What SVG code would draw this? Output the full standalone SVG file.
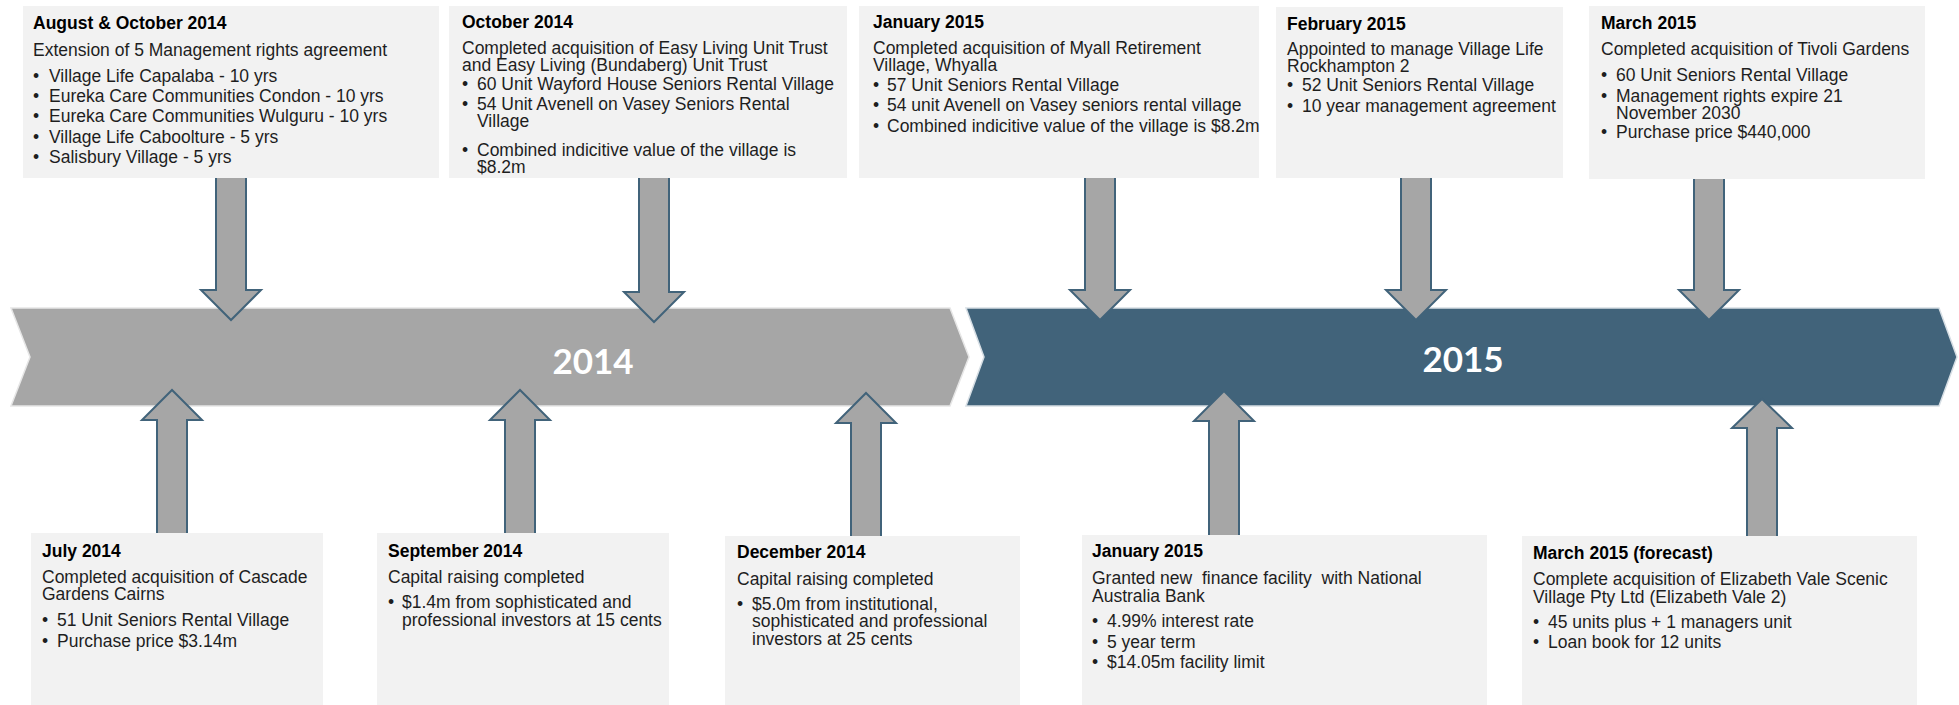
<svg xmlns="http://www.w3.org/2000/svg" width="1959" height="705" viewBox="0 0 1959 705">
<style>
.box{fill:#F2F2F2}
.t{font-family:"Liberation Sans",Arial,sans-serif;font-size:17.5px;fill:#1E1E1E}
.h{font-family:"Liberation Sans",Arial,sans-serif;font-size:17.5px;font-weight:bold;fill:#000}
.arrow{fill:#A6A6A6;stroke:#41637A;stroke-width:2;stroke-linejoin:miter}
.year{font-family:Lato,"Open Sans",sans-serif;font-size:35px;font-weight:bold;fill:#FFFFFF;text-anchor:middle}
</style>
<rect width="1959" height="705" fill="#FFFFFF"/>
<g id="timeline-2014">
<polygon points="11,308 950,308 969,357 950,406 11,406 30,357" fill="#A6A6A6" stroke="#E6E6E6" stroke-width="1.5"/>
<text class="year" x="593" y="374">2014</text>
</g>
<g id="timeline-2015">
<polygon points="966,308 1939,308 1957,357 1939,406 966,406 984,357" fill="#41637A" stroke="#D6DEE4" stroke-width="1.5"/>
<text class="year" x="1463" y="372">2015</text>
</g>
<g id="connectors">
<polygon class="arrow" points="216,174 246,174 246,290 261,290 231,320 201,290 216,290"/>
<polygon class="arrow" points="639,174 669,174 669,292 684,292 654,322 624,292 639,292"/>
<polygon class="arrow" points="1085,174 1115,174 1115,290 1130,290 1100,320 1070,290 1085,290"/>
<polygon class="arrow" points="1401,174 1431,174 1431,290 1446,290 1416,320 1386,290 1401,290"/>
<polygon class="arrow" points="1694,174 1724,174 1724,290 1739,290 1709,320 1679,290 1694,290"/>
<polygon class="arrow" points="157,537 187,537 187,420 202,420 172,390 142,420 157,420"/>
<polygon class="arrow" points="505,537 535,537 535,420 550,420 520,390 490,420 505,420"/>
<polygon class="arrow" points="851,540 881,540 881,423 896,423 866,393 836,423 851,423"/>
<polygon class="arrow" points="1209,539 1239,539 1239,421 1254,421 1224,391 1194,421 1209,421"/>
<polygon class="arrow" points="1747,540 1777,540 1777,428 1792,428 1762,399 1732,428 1747,428"/>
</g>
<g id="aug-oct-2014">
<rect class="box" x="23" y="6" width="416" height="172"/>
<text class="h" x="33" y="29">August &amp; October 2014</text>
<text class="t" x="33" y="56">Extension of 5 Management rights agreement</text>
<text class="t" x="33" y="82">•</text><text class="t" x="49" y="82">Village Life Capalaba - 10 yrs</text>
<text class="t" x="33" y="102">•</text><text class="t" x="49" y="102">Eureka Care Communities Condon - 10 yrs</text>
<text class="t" x="33" y="122">•</text><text class="t" x="49" y="122">Eureka Care Communities Wulguru - 10 yrs</text>
<text class="t" x="33" y="143">•</text><text class="t" x="49" y="143">Village Life Caboolture - 5 yrs</text>
<text class="t" x="33" y="163">•</text><text class="t" x="49" y="163">Salisbury Village - 5 yrs</text>
</g>
<g id="oct-2014">
<rect class="box" x="449" y="6" width="398" height="172"/>
<text class="h" x="462" y="28">October 2014</text>
<text class="t" x="462" y="54">Completed acquisition of Easy Living Unit Trust</text>
<text class="t" x="462" y="71">and Easy Living (Bundaberg) Unit Trust</text>
<text class="t" x="462" y="90">•</text><text class="t" x="477" y="90">60 Unit Wayford House Seniors Rental Village</text>
<text class="t" x="462" y="110">•</text><text class="t" x="477" y="110">54 Unit Avenell on Vasey Seniors Rental</text>
<text class="t" x="477" y="127">Village</text>
<text class="t" x="462" y="156">•</text><text class="t" x="477" y="156">Combined indicitive value of the village is</text>
<text class="t" x="477" y="173">$8.2m</text>
</g>
<g id="jan-2015-top">
<rect class="box" x="859" y="6" width="400" height="172"/>
<text class="h" x="873" y="28">January 2015</text>
<text class="t" x="873" y="54">Completed acquisition of Myall Retirement</text>
<text class="t" x="873" y="71">Village, Whyalla</text>
<text class="t" x="873" y="91">•</text><text class="t" x="887" y="91">57 Unit Seniors Rental Village</text>
<text class="t" x="873" y="111">•</text><text class="t" x="887" y="111">54 unit Avenell on Vasey seniors rental village</text>
<text class="t" x="873" y="132">•</text><text class="t" x="887" y="132">Combined indicitive value of the village is $8.2m</text>
</g>
<g id="feb-2015">
<rect class="box" x="1276" y="7" width="287" height="171"/>
<text class="h" x="1287" y="30">February 2015</text>
<text class="t" x="1287" y="55">Appointed to manage Village Life</text>
<text class="t" x="1287" y="72">Rockhampton 2</text>
<text class="t" x="1287" y="91">•</text><text class="t" x="1302" y="91">52 Unit Seniors Rental Village</text>
<text class="t" x="1287" y="112">•</text><text class="t" x="1302" y="112">10 year management agreement</text>
</g>
<g id="mar-2015">
<rect class="box" x="1589" y="6" width="336" height="173"/>
<text class="h" x="1601" y="29">March 2015</text>
<text class="t" x="1601" y="55">Completed acquisition of Tivoli Gardens</text>
<text class="t" x="1601" y="81">•</text><text class="t" x="1616" y="81">60 Unit Seniors Rental Village</text>
<text class="t" x="1601" y="102">•</text><text class="t" x="1616" y="102">Management rights expire 21</text>
<text class="t" x="1616" y="119">November 2030</text>
<text class="t" x="1601" y="138">•</text><text class="t" x="1616" y="138">Purchase price $440,000</text>
</g>
<g id="jul-2014">
<rect class="box" x="31" y="533" width="292" height="172"/>
<text class="h" x="42" y="557">July 2014</text>
<text class="t" x="42" y="583">Completed acquisition of Cascade</text>
<text class="t" x="42" y="600">Gardens Cairns</text>
<text class="t" x="42" y="626">•</text><text class="t" x="57" y="626">51 Unit Seniors Rental Village</text>
<text class="t" x="42" y="647">•</text><text class="t" x="57" y="647">Purchase price $3.14m</text>
</g>
<g id="sep-2014">
<rect class="box" x="377" y="533" width="292" height="172"/>
<text class="h" x="388" y="557">September 2014</text>
<text class="t" x="388" y="583">Capital raising completed</text>
<text class="t" x="388" y="608">•</text><text class="t" x="402" y="608">$1.4m from sophisticated and</text>
<text class="t" x="402" y="626">professional investors at 15 cents</text>
</g>
<g id="dec-2014">
<rect class="box" x="725" y="536" width="295" height="169"/>
<text class="h" x="737" y="558">December 2014</text>
<text class="t" x="737" y="585">Capital raising completed</text>
<text class="t" x="737" y="610">•</text><text class="t" x="752" y="610">$5.0m from institutional,</text>
<text class="t" x="752" y="627">sophisticated and professional</text>
<text class="t" x="752" y="645">investors at 25 cents</text>
</g>
<g id="jan-2015-bottom">
<rect class="box" x="1082" y="535" width="405" height="170"/>
<text class="h" x="1092" y="557">January 2015</text>
<text class="t" x="1092" y="584" style="white-space:pre">Granted new  finance facility  with National</text>
<text class="t" x="1092" y="602">Australia Bank</text>
<text class="t" x="1092" y="627">•</text><text class="t" x="1107" y="627">4.99% interest rate</text>
<text class="t" x="1092" y="648">•</text><text class="t" x="1107" y="648">5 year term</text>
<text class="t" x="1092" y="668">•</text><text class="t" x="1107" y="668">$14.05m facility limit</text>
</g>
<g id="mar-2015-forecast">
<rect class="box" x="1522" y="536" width="395" height="169"/>
<text class="h" x="1533" y="559">March 2015 (forecast)</text>
<text class="t" x="1533" y="585">Complete acquisition of Elizabeth Vale Scenic</text>
<text class="t" x="1533" y="603">Village Pty Ltd (Elizabeth Vale 2)</text>
<text class="t" x="1533" y="628">•</text><text class="t" x="1548" y="628">45 units plus + 1 managers unit</text>
<text class="t" x="1533" y="648">•</text><text class="t" x="1548" y="648">Loan book for 12 units</text>
</g>
</svg>
